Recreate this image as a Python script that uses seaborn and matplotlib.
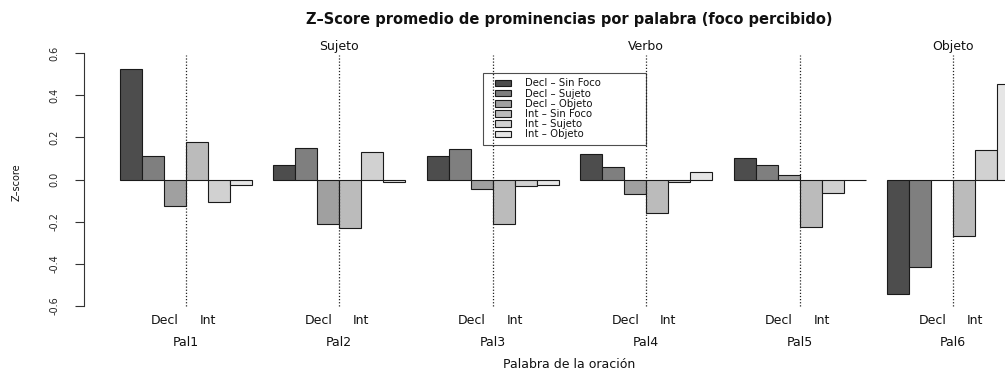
import numpy as np
import pandas as pd
import matplotlib
matplotlib.use("Agg")
import matplotlib.pyplot as plt
import seaborn as sns
from matplotlib.transforms import blended_transform_factory
from matplotlib.patches import Rectangle
from matplotlib.legend_handler import HandlerPatch

# ---- data -------------------------------------------------------------
palabras = ["Pal1", "Pal2", "Pal3", "Pal4", "Pal5", "Pal6"]
condiciones = ["Decl – Sin Foco", "Decl – Sujeto", "Decl – Objeto",
               "Int – Sin Foco", "Int – Sujeto", "Int – Objeto"]

decl_sin_foco = [0.524, 0.067, 0.111, 0.120, 0.101, -0.543]
decl_sujeto   = [0.111, 0.152, 0.143, 0.059, 0.071, -0.416]
decl_objeto   = [-0.124, -0.213, -0.045, -0.070, 0.024, -0.002]
int_sin_foco  = [0.178, -0.230, -0.211, -0.157, -0.225, -0.267]
int_sujeto    = [-0.105, 0.133, -0.030, -0.010, -0.062, 0.140]
int_objeto    = [-0.027, -0.012, -0.028, 0.036, -0.003, 0.452]

series = [decl_sin_foco, decl_sujeto, decl_objeto,
          int_sin_foco, int_sujeto, int_objeto]

# focus labels shown above the separator of some words
foco_palabra = [1, 3, 5]
foco_nombre = ["Sujeto", "Verbo", "Objeto"]

modalidades = ["Decl", "Int"]

yticks = [-0.6, -0.4, -0.2, 0.0, 0.2, 0.4, 0.6]
ytick_labels = ["-0.6", "-0.4", "-0.2", "0.0", "0.2", "0.4", "0.6"]

colores = ["#4D4D4D", "#7F7F7F", "#A0A0A0", "#BBBBBB", "#D1D1D1", "#E6E6E6"]

df = pd.DataFrame({
    "palabra": np.repeat([palabras], len(condiciones), axis=0).ravel(),
    "condicion": np.repeat(condiciones, len(palabras)),
    "z": np.concatenate(series),
})

# ---- figure -----------------------------------------------------------
sns.set_theme(style="white")
plt.rcParams["font.family"] = ["DejaVu Sans"]

W, H = 1005, 369
fig = plt.figure(figsize=(W / 100, H / 100), dpi=100)
# plotting region (runs slightly past the right border of the canvas)
left_px, right_px, top_px, bottom_px = 84, 1055, 43.1, 316.1
ax = fig.add_axes([left_px / W, (H - bottom_px) / H,
                   (right_px - left_px) / W, (bottom_px - top_px) / H])

sns.barplot(data=df, x="palabra", y="z", hue="condicion",
            order=palabras, hue_order=condiciones, palette=colores,
            width=6 / 7, saturation=1, errorbar=None,
            edgecolor="#1a1a1a", linewidth=0.8, ax=ax)

ax.set_xlim(-0.663, 5.663)
ax.set_ylim(-0.648, 0.648)

for s in ("top", "right", "bottom"):
    ax.spines[s].set_visible(False)
ax.spines["left"].set_bounds(-0.6, 0.6)
ax.spines["left"].set_color("#333333")
ax.spines["left"].set_linewidth(0.8)

ax.set_xticks([])
ax.set_xlabel("")
ax.set_yticks(yticks, labels=ytick_labels)
ax.tick_params(axis="y", left=True, length=6.3, width=0.8, color="#333333",
               pad=11.5, labelsize=7, labelrotation=90, direction="out")
for lab in ax.get_yticklabels():
    lab.set_va("center")

# dotted separators between declarative and interrogative bars
ax.vlines(np.arange(len(palabras)), -0.6, 0.59, colors="#222222",
          linestyles=(0, (1, 1.5)), linewidth=0.9, zorder=6)

txt = "#111111"
for k, nombre in zip(foco_palabra, foco_nombre):
    ax.text(k, 0.634, nombre, ha="center", va="center", fontsize=9,
            color=txt)

trans = blended_transform_factory(ax.transData, fig.transFigure)
for k, pal in enumerate(palabras):
    ax.text(k - 0.137, 1 - 320.5 / H, modalidades[0], transform=trans,
            ha="center", va="center", fontsize=9, color=txt)
    ax.text(k + 0.143, 1 - 320.5 / H, modalidades[1], transform=trans,
            ha="center", va="center", fontsize=9, color=txt)
    ax.text(k, 1 - 342 / H, pal, transform=trans,
            ha="center", va="center", fontsize=9, color=txt)

ax.set_xlabel("Palabra de la oración", fontsize=9, color=txt)
ax.xaxis.set_label_coords(0.5, -0.176)
ax.xaxis.label.set_va("center")

ax.set_ylabel("Z–score", fontsize=7, color=txt)
ax.yaxis.set_label_coords((16.7 - left_px) / (right_px - left_px), 0.49)
ax.yaxis.label.set_va("center")

ax.set_title("Z–Score promedio de prominencias por palabra (foco percibido)",
             fontsize=10.5, fontweight="bold", color=txt,
             y=(bottom_px - 20) / (bottom_px - top_px), va="center", pad=0)


# legend keys: a small swatch sitting at the right end of the key box
def swatch(legend, orig_handle, xdescent, ydescent, width, height, fontsize):
    w = 1.55 * fontsize
    return Rectangle((width - xdescent - w, -ydescent), w, height)


handles, labels = ax.get_legend_handles_labels()
leg = ax.legend(handles, labels, loc="upper left",
                bbox_to_anchor=(0.4106, 0.645, 0.168, 0.244), mode="expand",
                borderaxespad=0, fontsize=7.3, labelspacing=0.02,
                handlelength=2.3, handleheight=0.6, handletextpad=1.35,
                borderpad=0.5, frameon=True, fancybox=False,
                facecolor="none", edgecolor="#222222",
                handler_map={Rectangle: HandlerPatch(patch_func=swatch)})
leg.get_frame().set_linewidth(0.8)
for t in leg.get_texts():
    t.set_color(txt)

fig.savefig("out.png", dpi=100)
